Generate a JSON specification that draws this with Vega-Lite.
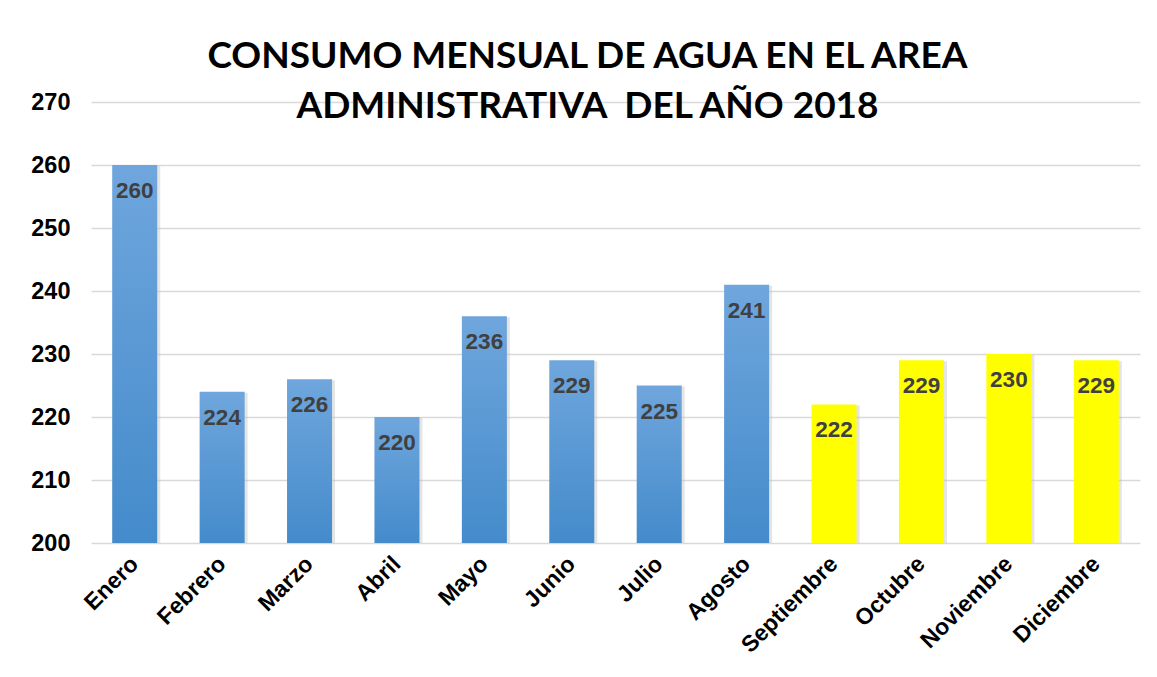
{
  "$schema": "https://vega.github.io/schema/vega-lite/v6.json",
  "autosize": {"type": "none"},
  "width": 1049,
  "height": 441,
  "padding": {"left": 91, "top": 102, "right": 17, "bottom": 134},
  "background": "white",
  "title": {
    "text": ["CONSUMO MENSUAL DE AGUA EN EL AREA", "ADMINISTRATIVA \u00a0DEL AÑO 2018"],
    "font": "Lato",
    "fontSize": 37,
    "fontWeight": "bold",
    "color": "#000000",
    "anchor": "middle",
    "dx": -28,
    "offset": 0,
    "dy": 36,
    "lineHeight": 50
  },
  "data": {
    "values": [
      {"mes": "Enero", "consumo": 260, "grupo": "a"},
      {"mes": "Febrero", "consumo": 224, "grupo": "a"},
      {"mes": "Marzo", "consumo": 226, "grupo": "a"},
      {"mes": "Abril", "consumo": 220, "grupo": "a"},
      {"mes": "Mayo", "consumo": 236, "grupo": "a"},
      {"mes": "Junio", "consumo": 229, "grupo": "a"},
      {"mes": "Julio", "consumo": 225, "grupo": "a"},
      {"mes": "Agosto", "consumo": 241, "grupo": "a"},
      {"mes": "Septiembre", "consumo": 222, "grupo": "b"},
      {"mes": "Octubre", "consumo": 229, "grupo": "b"},
      {"mes": "Noviembre", "consumo": 230, "grupo": "b"},
      {"mes": "Diciembre", "consumo": 229, "grupo": "b"}
    ]
  },
  "encoding": {
    "x": {
      "field": "mes",
      "type": "nominal",
      "sort": null,
      "scale": {"paddingInner": 0.485, "paddingOuter": 0.2425},
      "axis": {
        "title": null,
        "labelAngle": -45,
        "labelAlign": "right",
        "labelBaseline": "middle",
        "labelFont": "Liberation Sans",
        "labelFontSize": 23,
        "labelFontWeight": "bold",
        "labelColor": "#000000",
        "labelPadding": 17,
        "ticks": false,
        "domain": false
      }
    },
    "y": {
      "field": "consumo",
      "type": "quantitative",
      "scale": {"domain": [200, 270], "nice": false, "zero": false},
      "axis": {
        "title": null,
        "values": [200, 210, 220, 230, 240, 250, 260, 270],
        "labelFont": "Liberation Sans",
        "labelFontSize": 23.5,
        "labelFontWeight": "bold",
        "labelColor": "#000000",
        "labelPadding": 21,
        "ticks": false,
        "domain": false,
        "gridColor": "#d9d9d9",
        "gridWidth": 1.5
      }
    }
  },
  "layer": [
    {
      "mark": {"type": "bar", "xOffset": 3, "yOffset": 1, "color": "#bfbfbf", "opacity": 0.4},
      "encoding": {"y2": {"datum": 200}}
    },
    {
      "mark": {"type": "bar"},
      "encoding": {
        "y2": {"datum": 200},
        "fill": {
          "condition": {"test": "datum.grupo === 'b'", "value": "#ffff00"},
          "value": {
            "gradient": "linear",
            "x1": 0, "y1": 0, "x2": 0, "y2": 1,
            "stops": [
              {"offset": 0, "color": "#6fa6dd"},
              {"offset": 1, "color": "#448bcb"}
            ]
          }
        }
      }
    },
    {
      "mark": {
        "type": "text",
        "baseline": "middle",
        "dy": 26,
        "font": "Liberation Sans",
        "fontSize": 22.5,
        "fontWeight": "bold",
        "color": "#404040"
      },
      "encoding": {"text": {"field": "consumo", "type": "quantitative"}}
    }
  ],
  "config": {"view": {"stroke": null}}
}
